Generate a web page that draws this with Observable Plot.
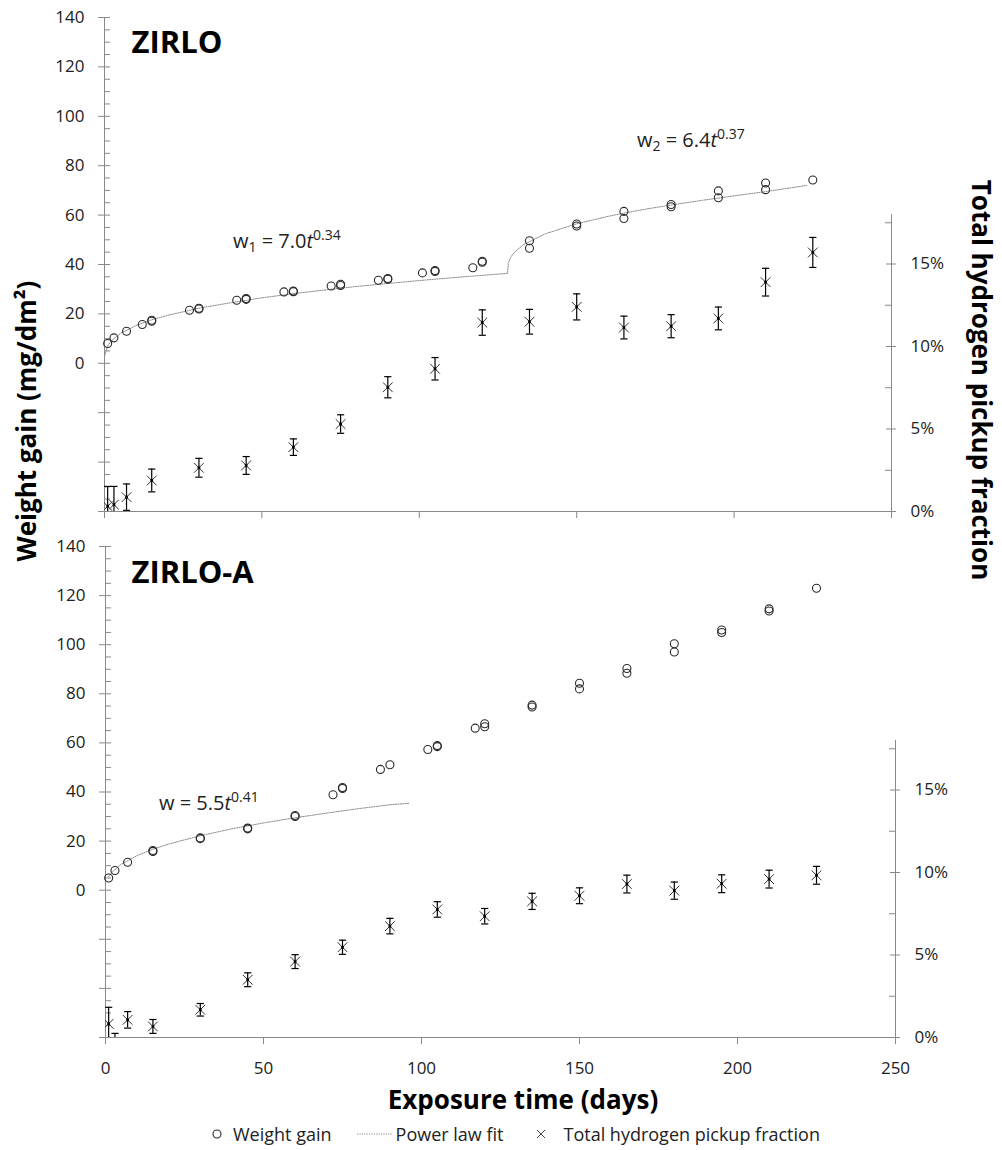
<!DOCTYPE html>
<html>
<head>
<meta charset="utf-8">
<script src="https://cdn.jsdelivr.net/npm/d3@7"></script>
<script src="https://cdn.jsdelivr.net/npm/@observablehq/plot@0.6"></script>
<style>
  html, body { margin:0; padding:0; background:#fff; }
  #fig { position:relative; width:1002px; height:1150px; overflow:hidden; background:#fff; font-family:"Open Sans", sans-serif; color:#222; }
  .legend { position:absolute; top:1121px; left:212px; display:flex; align-items:center; font-size:18px; color:#222; white-space:nowrap; height:26px; }
  .legend svg { display:block; }
</style>
</head>
<body>
<div id="fig"></div>
<script>
// ---------------- data ----------------
// ZIRLO
const zirloWeightDays = [1,3,7,12,15,15,27,30,30,42,45,45,57,60,60,72,75,75,87,90,90,101,105,105,117,120,120,135,135,150,150,165,165,180,180,195,195,210,210,225];
const zirloWeight     = [8.0,10.3,13.0,15.7,17.0,17.4,21.5,22.0,22.3,25.5,25.9,26.2,28.9,29.0,29.3,31.3,31.5,32.0,33.6,34.0,34.3,36.6,37.2,37.6,38.7,40.9,41.3,49.6,46.6,55.6,56.4,61.5,58.6,63.4,64.3,69.8,67.0,73.0,70.3,74.2];
const zirloFitDays = [0.1,1,2,5,10,15,20,30,40,50,60,70,80,90,100,110,120,128,128.3,129,130,133,140,150,160,170,180,190,200,210,223];
const zirloFit     = [3.2,7.0,8.9,12.1,15.3,17.6,19.4,22.3,24.5,26.5,28.2,29.7,31.1,32.3,33.5,34.6,35.6,36.4,40.5,42.8,44.7,48.0,52.4,56.5,59.5,62.0,64.1,66.0,67.8,69.5,72.0];
const zirloHDays = [1,3,7,15,30,45,60,75,90,105,120,135,150,165,180,195,210,225];
const zirloH     = [0.32,0.42,0.87,1.88,2.65,2.79,3.9,5.3,7.53,8.65,11.45,11.5,12.4,11.15,11.23,11.7,13.9,15.7];
const zirloHErr  = [1.2,1.1,0.8,0.69,0.57,0.54,0.5,0.56,0.64,0.68,0.77,0.75,0.79,0.69,0.7,0.69,0.84,0.91];

// ZIRLO-A
const zirloAWeightDays = [1,3,7,15,15,30,30,45,45,60,60,72,75,75,87,90,102,105,105,117,120,120,135,135,150,150,165,165,180,180,195,195,210,210,225];
const zirloAWeight     = [5.0,8.0,11.4,15.8,16.2,21.0,21.3,25.0,25.3,30.0,30.4,38.9,41.4,41.8,49.2,51.1,57.3,58.5,58.9,66.0,66.6,67.8,74.6,75.4,82.0,84.3,88.4,90.3,97.0,100.4,105.0,106.0,113.7,114.6,123.0];
const zirloAFitDays = [1,2,5,10,15,20,30,40,50,60,70,80,90,96];
const zirloAFit     = [5.5,7.3,10.6,14.1,16.7,18.8,22.2,25.0,27.4,29.5,31.4,33.2,34.8,35.4];
const zirloAHDays = [1,3,7,15,30,45,60,75,90,105,120,135,150,165,180,195,210,225];
const zirloAH     = [0.83,-0.3,1.07,0.67,1.68,3.5,4.6,5.47,6.75,7.76,7.35,8.25,8.59,9.3,8.9,9.32,9.6,9.83];
const zirloAHErr  = [1.0,0.55,0.5,0.42,0.38,0.42,0.42,0.43,0.47,0.47,0.47,0.49,0.48,0.54,0.52,0.54,0.54,0.54];

// ticks
const xTicks = [0, 50, 100, 150, 200, 250];
const weightTickLabels = [0, 20, 40, 60, 80, 100, 120, 140];
const weightMajorTicks = [-60, -40, -20, 0, 20, 40, 60, 80, 100, 120, 140];
const weightMinorTicks = d3.range(-55, 140, 5).filter(v => v % 20 !== 0);
const hMajorTicks = [0, 5, 10, 15];
const hMinorTicks = [2.5, 7.5, 12.5, 17.5];
const hPercentLabel = d => d + "%";

// ---------------- styling ----------------
const axisColor = "#898989";
const FONT = "'Open Sans', sans-serif";
const H_PX_PER_PCT = 16.5;
const capSymbol = { draw(ctx, size) { const r = Math.sqrt(size / Math.PI); ctx.moveTo(-r, 0); ctx.lineTo(r, 0); } };

const fig = document.getElementById("fig");

function zip(days, vals, errs) { return days.map((d, i) => ({d, v: vals[i], e: errs ? errs[i] : 0})); }

function makePanel(cfg) {
  const {top, height, mt, mb, ml, mr, xLabels} = cfg;
  const base = {
    width: 1002, height, marginTop: mt, marginBottom: mb, marginLeft: ml, marginRight: mr,
    x: {domain: [0, 250], axis: null},
    style: {fontFamily: FONT, fontSize: "17px", color: "#222", background: "none", overflow: "visible"}
  };
  const weights = zip(cfg.wDays, cfg.w);
  const fit = zip(cfg.fitDays, cfg.fitW);
  const wPlot = Plot.plot({
    ...base,
    y: {domain: [-60, 140], axis: null},
    marks: [
      Plot.ruleY(weightMinorTicks, {y: d => d, x1: 0, x2: 0, insetRight: -6, stroke: axisColor}),
      Plot.ruleY(weightMajorTicks, {y: d => d, x1: 0, x2: 0, insetLeft: -6, insetRight: -6, stroke: axisColor}),
      Plot.ruleX(xTicks, {x: d => d, y1: -60, y2: -60, insetBottom: -7, stroke: axisColor}),
      Plot.ruleX([0], {y1: -60, y2: 140, stroke: axisColor}),
      Plot.ruleY([-60], {x1: 0, x2: 250, stroke: axisColor}),
      Plot.axisY(weightTickLabels, {tickSize: 0, tickPadding: 20, label: null, fontSize: 17, fill: "#222"}),
      xLabels ? Plot.axisX(xTicks, {tickSize: 0, tickPadding: 24, label: null, fontSize: 17, fill: "#222"}) : null,
      Plot.line(fit, {x: "d", y: "v", stroke: "#8a8a8a", strokeWidth: 1, strokeDasharray: "1.2,1.2"}),
      Plot.dot(weights, {x: "d", y: "v", r: 4, stroke: "#2a2a2a", strokeWidth: 1.1, fill: "none"}),
      Plot.text([cfg.name], {frameAnchor: "top-left", dx: cfg.nameDx, dy: cfg.nameDy, textAnchor: "start", lineAnchor: "middle", fontSize: 31, fontWeight: 700, fill: "#000"})
    ]
  });
  const yBottom = height - mb;
  const hData = cfg.hDays.map((d, i) => ({d, v: cfg.h[i], e: cfg.hErr[i]}));
  const hPlot = Plot.plot({
    ...base,
    y: {domain: [0, 18], range: [yBottom, yBottom - 18 * H_PX_PER_PCT], axis: null},
    marks: [
      Plot.ruleX([250], {y1: 0, y2: 18, stroke: axisColor}),
      Plot.ruleY(hMinorTicks, {y: d => d, x1: 250, x2: 250, insetLeft: -6, stroke: axisColor}),
      Plot.ruleY(hMajorTicks, {y: d => d, x1: 250, x2: 250, insetLeft: -5, insetRight: -5, stroke: axisColor}),
      Plot.axisY(hMajorTicks, {anchor: "right", tickSize: 0, tickPadding: 19, tickFormat: hPercentLabel, label: null, fontSize: 17, fill: "#222"}),
      Plot.ruleX(hData, {x: "d", y1: d => d.v - d.e, y2: d => d.v + d.e, stroke: "#000", strokeWidth: 1.2, clip: true}),
      Plot.dot(hData, {x: "d", y: d => d.v + d.e, symbol: capSymbol, r: 3.6, stroke: "#000", strokeWidth: 1.2, clip: true}),
      Plot.dot(hData, {x: "d", y: d => d.v - d.e, symbol: capSymbol, r: 3.6, stroke: "#000", strokeWidth: 1.2, clip: true}),
      Plot.dot(hData, {x: "d", y: "v", symbol: "times", r: 4.5, stroke: "#333", strokeWidth: 1, clip: true}),
      Plot.dot(hData, {x: "d", y: "v", symbol: "square", r: 1.5, fill: "#000", clip: true})
    ]
  });
  for (const svg of [wPlot, hPlot]) {
    svg.style.position = "absolute";
    svg.style.left = "0px";
    svg.style.top = top + "px";
    svg.style.maxWidth = "none";
    fig.appendChild(svg);
  }
}

makePanel({top: 0, height: 525, mt: 17, mb: 14, ml: 104, mr: 111, xLabels: false,
  name: "ZIRLO", nameDx: 27, nameDy: 26,
  wDays: zirloWeightDays, w: zirloWeight, fitDays: zirloFitDays, fitW: zirloFit,
  hDays: zirloHDays, h: zirloH, hErr: zirloHErr});

makePanel({top: 525, height: 560, mt: 21, mb: 48, ml: 105, mr: 107, xLabels: true,
  name: "ZIRLO-A", nameDx: 26, nameDy: 27,
  wDays: zirloAWeightDays, w: zirloAWeight, fitDays: zirloAFitDays, fitW: zirloAFit,
  hDays: zirloAHDays, h: zirloAH, hErr: zirloAHErr});

// ---------------- titles and fit equations ----------------
const ov = d3.create("svg").attr("width", 1002).attr("height", 1150)
  .style("position", "absolute").style("left", "0px").style("top", "0px")
  .style("pointer-events", "none").style("font-family", FONT);

ov.append("text").attr("transform", "translate(36,421) rotate(-90)").attr("text-anchor", "middle")
  .attr("font-size", 26).attr("font-weight", 700).attr("fill", "#000").text("Weight gain (mg/dm²)");
ov.append("text").attr("transform", "translate(972,380) rotate(90)").attr("text-anchor", "middle")
  .attr("font-size", 26).attr("font-weight", 700).attr("fill", "#000").text("Total hydrogen pickup fraction");
ov.append("text").attr("x", 523).attr("y", 1109).attr("text-anchor", "middle")
  .attr("font-size", 26).attr("font-weight", 700).attr("fill", "#000").text("Exposure time (days)");

function equation(x, y, lhs, sub, coef, exp) {
  const t = ov.append("text").attr("x", x).attr("y", y).attr("font-size", 20).attr("fill", "#222");
  t.append("tspan").text(lhs);
  if (sub) t.append("tspan").attr("font-size", 14).attr("dy", 4).text(sub);
  t.append("tspan").attr("dy", sub ? -4 : 0).text(" = " + coef);
  t.append("tspan").attr("font-style", "italic").text("t");
  t.append("tspan").attr("font-size", 14).attr("dy", -8).text(exp);
}
equation(233, 248, "w", "1", "7.0", "0.34");
equation(637, 147, "w", "2", "6.4", "0.37");
equation(159, 810, "w", null, "5.5", "0.41");

fig.appendChild(ov.node());

// ---------------- legend ----------------
const legend = document.createElement("div");
legend.className = "legend";
legend.innerHTML = `
  <svg width="10" height="10"><circle cx="5" cy="5" r="4" fill="none" stroke="#2a2a2a" stroke-width="1.1"/></svg>
  <span style="margin-left:11px">Weight gain</span>
  <svg width="35" height="4" style="margin-left:25px"><line x1="0" y1="2" x2="35" y2="2" stroke="#8a8a8a" stroke-width="1" stroke-dasharray="1.2,1.2"/></svg>
  <span style="margin-left:4px">Power law fit</span>
  <svg width="10" height="10" style="margin-left:33px"><path d="M1,1L9,9M1,9L9,1" stroke="#444" stroke-width="1"/></svg>
  <span style="margin-left:17px">Total hydrogen pickup fraction</span>`;
fig.appendChild(legend);
</script>
</body>
</html>
